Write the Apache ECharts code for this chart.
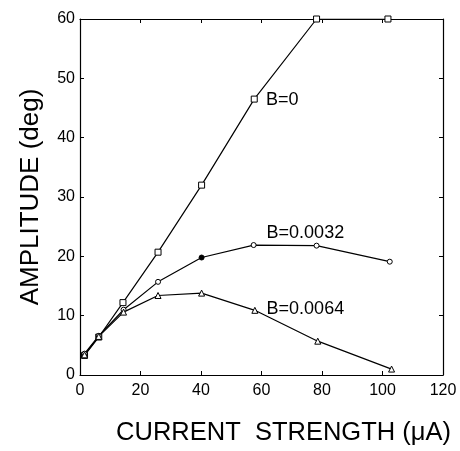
<!DOCTYPE html>
<html><head><meta charset="utf-8">
<script src="https://cdn.jsdelivr.net/npm/echarts@6/dist/echarts.min.js"></script>
<style>html,body{margin:0;padding:0;background:#fff}#c{width:460px;height:451px}</style>
</head><body><div id="c"></div>
<script>
const xTicks = [0, 20, 40, 60, 80, 100, 120];
const yTicks = [0, 10, 20, 30, 40, 50, 60];
const b0 = [[1.5, 3.3], [6.2, 6.4], [14.2, 12.2], [25.8, 20.7], [40.2, 32.0], [57.6, 46.5], [78.2, 60.0], [101.8, 60.0]];
const b32 = [[1.5, 3.6], [6.2, 6.6], [14.4, 11.0], [25.8, 15.7], [40.2, 19.8], [57.4, 21.9], [78.2, 21.8], [102.4, 19.1]];
const b64 = [[1.5, 3.4], [6.2, 6.5], [14.4, 10.6], [25.8, 13.4], [40.2, 13.8], [57.8, 10.9], [78.6, 5.7], [103.0, 1.0]];
const filled32 = [4];
const labels = [
  {name: 'B=0', coord: [61.5, 46.3]},
  {name: 'B=0.0032', coord: [74.5, 24.0]},
  {name: 'B=0.0064', coord: [74.5, 11.1]}
];
const font = 'Liberation Sans';
const chart = echarts.init(document.getElementById('c'));
const mkAxis = (pos, show, ticks) => ({
  type: 'value', position: pos, min: ticks[0], max: ticks[ticks.length - 1], interval: ticks[1] - ticks[0],
  axisLine: {show: true, onZero: false, lineStyle: {color: '#000', width: 1.2}},
  axisTick: {show: true, inside: true, length: 4, lineStyle: {color: '#000'}},
  axisLabel: {show: show, color: '#000', fontFamily: font, fontSize: 16, margin: pos === 'bottom' ? 8 : 5},
  splitLine: {show: false}
});
const xa = mkAxis('bottom', true, xTicks);
xa.name = 'CURRENT  STRENGTH (μA)'; xa.nameLocation = 'middle'; xa.nameGap = 45;
xa.nameTextStyle = {color: '#000', fontFamily: font, fontSize: 25.5, padding: [0, 0, 0, 44]};
const xTop = mkAxis('top', false, xTicks);
const ya = mkAxis('left', true, yTicks);
ya.name = 'AMPLITUDE (deg)'; ya.nameLocation = 'middle'; ya.nameGap = 36;
ya.nameTextStyle = {color: '#000', fontFamily: font, fontSize: 26};
const yRight = mkAxis('right', false, yTicks);
const lineStyle = {color: '#000', width: 1.2};
const mp = (l, pos) => ({symbol: 'circle', symbolSize: 0, data: [{coord: l.coord, label: {show: true, formatter: l.name, position: pos, distance: 0, color: '#000', fontFamily: font, fontSize: 18}}]});
chart.setOption({
  animation: false,
  grid: {left: 80, right: 17, top: 19, bottom: 74},
  xAxis: [xa, xTop],
  yAxis: [ya, yRight],
  series: [
    {type: 'line', data: b0, symbol: 'rect', symbolSize: 6, lineStyle, itemStyle: {color: '#fff', borderColor: '#000', borderWidth: 1},
     markPoint: mp(labels[0], 'right')},
    {type: 'line', data: b32.map((p, i) => filled32.includes(i) ? {value: p, itemStyle: {color: '#000'}} : p), symbol: 'circle', symbolSize: 5, lineStyle, itemStyle: {color: '#fff', borderColor: '#000', borderWidth: 1},
     markPoint: mp(labels[1], 'inside')},
    {type: 'line', data: b64, symbol: 'triangle', symbolSize: 6, lineStyle, itemStyle: {color: '#fff', borderColor: '#000', borderWidth: 1},
     markPoint: mp(labels[2], 'inside')}
  ]
});
</script></body></html>
